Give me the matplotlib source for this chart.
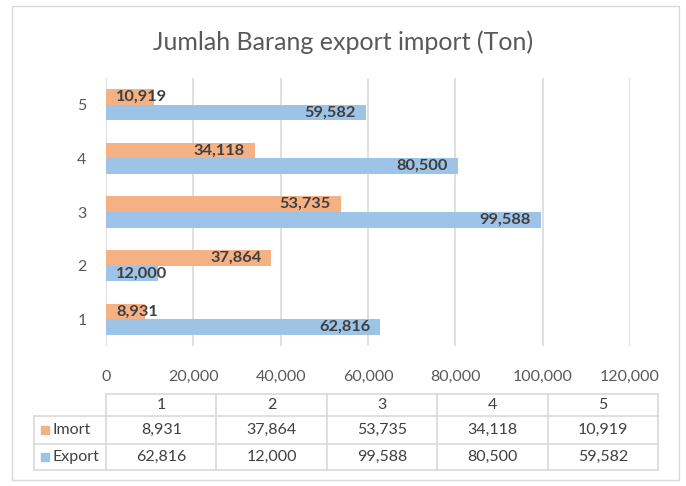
import numpy as np
import matplotlib
matplotlib.use('Agg')
import matplotlib.pyplot as plt
from matplotlib.patches import Rectangle

plt.rcParams['font.family'] = ['Lato', 'DejaVu Sans']

categories = ['1', '2', '3', '4', '5']
imort = [8931, 37864, 53735, 34118, 10919]
export = [62816, 12000, 99588, 80500, 59582]
series_names = ['Imort', 'Export']
title = 'Jumlah Barang export import (Ton)'

c_imp = '#F4B183'
c_exp = '#9DC3E6'
grid_c = '#D9D9D9'
txt_c = '#595959'
lab_c = '#404040'

W, H = 686, 486
fig = plt.figure(figsize=(W / 100, H / 100), dpi=100)

# overlay axes in pixel coords for border, title and data table
bg = fig.add_axes([0, 0, 1, 1])
bg.set_xlim(0, W)
bg.set_ylim(H, 0)
bg.axis('off')
bg.add_patch(Rectangle((12, 6), 667, 474, fill=False, ec=grid_c, lw=1))
bg.text(W / 2, 42, title, ha='center', va='center', fontsize=18, color=txt_c)

ax = fig.add_axes([106 / W, 1 - 346 / H, (630 - 106) / W, (346 - 78) / H])
y = np.arange(1, len(categories) + 1)
h = 0.29
ax.barh(y + h / 2, imort, height=h, color=c_imp, zorder=2)
ax.barh(y - h / 2, export, height=h, color=c_exp, zorder=2)
ax.set_xlim(0, 120000)
ax.set_ylim(0.5, 5.5)
ax.set_xticks(np.arange(0, 120001, 20000))
ax.set_xticklabels([f'{v:,}' for v in range(0, 120001, 20000)])
ax.set_yticks(y)
ax.set_yticklabels(categories)
ax.tick_params(length=0, labelsize=11.5, labelcolor=txt_c)
ax.tick_params(axis='x', pad=17)
ax.tick_params(axis='y', pad=14)
ax.grid(axis='x', color=grid_c, lw=1.2, zorder=0)
for s in ax.spines.values():
    s.set_visible(False)

# data labels: inside end, or from the base when the bar is too short
for vals, off in ((imort, h / 2), (export, -h / 2)):
    for yi, v in zip(y, vals):
        if v < 16000:
            ax.annotate(f'{v:,}', (0, yi + off), xytext=(7.2, 0), textcoords='offset points',
                        ha='left', va='center', fontsize=11.8, fontweight='bold', color=lab_c, zorder=3)
        else:
            ax.annotate(f'{v:,}', (v, yi + off), xytext=(-7.2, 0), textcoords='offset points',
                        ha='right', va='center', fontsize=11.8, fontweight='bold', color=lab_c, zorder=3)

# data table
x0, x1, xl = 106, 658, 34
rows = [394, 416, 444, 470]
cw = (x1 - x0) / len(categories)
kw = dict(color=grid_c, lw=1.2)
bg.plot([x0, x1], [rows[0], rows[0]], **kw)
for r in rows[1:]:
    bg.plot([xl, x1], [r, r], **kw)
bg.plot([xl, xl], [rows[1], rows[3]], **kw)
for i in range(len(categories) + 1):
    bg.plot([x0 + i * cw, x0 + i * cw], [rows[0], rows[3]], **kw)
for i, c in enumerate(categories):
    xc = x0 + (i + 0.5) * cw
    bg.text(xc, (rows[0] + rows[1]) / 2, c, ha='center', va='center', fontsize=11.5, color=lab_c)
    bg.text(xc, (rows[1] + rows[2]) / 2, f'{imort[i]:,}', ha='center', va='center', fontsize=11.5, color=lab_c)
    bg.text(xc, (rows[2] + rows[3]) / 2, f'{export[i]:,}', ha='center', va='center', fontsize=11.5, color=lab_c)
for k, (name, col) in enumerate(zip(series_names, (c_imp, c_exp))):
    yc = (rows[k + 1] + rows[k + 2]) / 2
    bg.add_patch(Rectangle((41, yc - 4), 8, 8, color=col))
    bg.text(53, yc, name, ha='left', va='center', fontsize=11.5, color=lab_c)

fig.savefig('out.png', dpi=100)
